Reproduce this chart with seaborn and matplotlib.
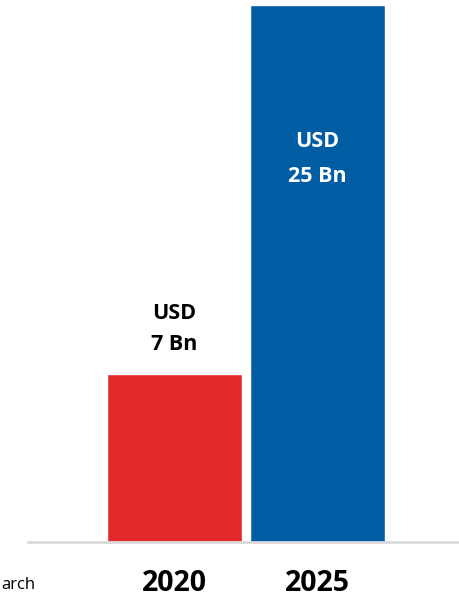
import matplotlib
matplotlib.use("Agg")
import matplotlib.pyplot as plt
import seaborn as sns
import pandas as pd

years = ["2020", "2025"]
bar_heights = [7.8, 25.0]          # bar lengths as drawn in the picture
value_labels = ["USD\n7 Bn", "USD\n25 Bn"]
colors = ["#E2282A", "#005DA3"]
source_text = "arch"

sns.set_theme(style="white")
plt.rcParams["font.family"] = ["Open Sans", "DejaVu Sans"]

W, H = 460, 597
fig = plt.figure(figsize=(W / 100, H / 100), dpi=100)
ax = fig.add_axes([28 / W, (H - 542) / H, (457 - 28) / W, (542 - 5) / H])

df = pd.DataFrame({"year": years, "value": bar_heights})
sns.barplot(data=df, x="year", y="value", hue="year", palette=colors,
            width=0.944, saturation=1, legend=False, ax=ax)

ax.set_xlim(-1.024, 1.975)
ax.set_ylim(0, 25.0)
for s in ["top", "right", "left"]:
    ax.spines[s].set_visible(False)
ax.spines["bottom"].set_color("#D9D9D9")
ax.spines["bottom"].set_linewidth(2)
ax.set_yticks([])
ax.set_xlabel("")
ax.set_ylabel("")
ax.tick_params(axis="x", length=0, pad=19.5)
for t in ax.get_xticklabels():
    t.set_fontsize(20.5)
    t.set_fontweight("bold")
    t.set_color("black")

# value labels
ax.annotate(value_labels[0], xy=(0, bar_heights[0]), xytext=(0, 14),
            textcoords="offset points", ha="center", va="bottom",
            fontsize=15.5, fontweight="bold", color="black", linespacing=1.6)
ax.annotate(value_labels[1], xy=(1, bar_heights[1]), xytext=(0, -91),
            textcoords="offset points", ha="center", va="top",
            fontsize=15.5, fontweight="bold", color="white", linespacing=1.85)

fig.text(1 / W, 1 - 585 / H, source_text, ha="left", va="center",
         fontsize=12, color="black")

fig.savefig("out.png", dpi=100)
